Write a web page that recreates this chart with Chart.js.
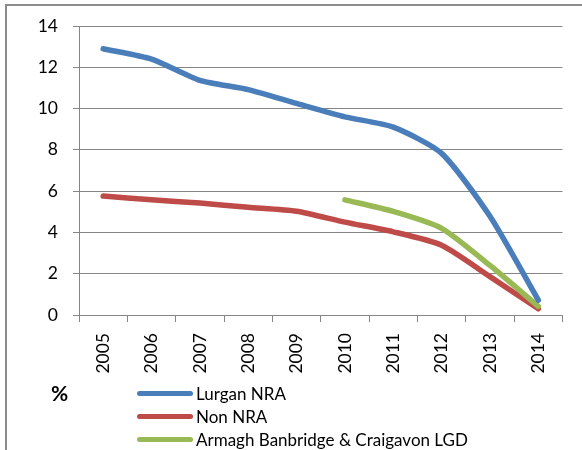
<!DOCTYPE html>
<html><head><meta charset="utf-8">
<script src="https://cdn.jsdelivr.net/npm/chart.js@4/dist/chart.umd.min.js"></script>
<style>
html,body{margin:0;padding:0;background:#fff;}
#wrap{position:relative;width:582px;height:450px;overflow:hidden;font-family:Lato,"Open Sans",sans-serif;}
#c{position:absolute;left:0;top:0;}
.ftop{position:absolute;left:6px;top:4px;width:576px;height:2px;background:#8c8c8c;}
.fleft{position:absolute;left:5px;top:4px;width:2px;height:446px;background:#8c8c8c;}
.pct{position:absolute;left:51px;top:380px;font-weight:bold;font-size:21px;color:#000;}
.lg{position:absolute;left:137px;height:22px;width:420px;}
.lg .ln{position:absolute;left:0;top:8px;width:56px;height:5px;border-radius:3px;}
.lg .tx{position:absolute;left:59px;top:0;font-size:17px;line-height:22px;color:#000;white-space:nowrap;}
</style></head>
<body>
<div id="wrap">
<canvas id="c" width="582" height="450"></canvas>
<div class="ftop"></div><div class="fleft"></div>
<div class="pct">%</div>
<div id="legend"></div>
</div>
<script>
const years = ["2005","2006","2007","2008","2009","2010","2011","2012","2013","2014"];
const seriesNames = ["Lurgan NRA","Non NRA","Armagh Banbridge & Craigavon LGD"];
const lurganNRA = [12.9,12.4,11.37,10.92,10.25,9.6,9.1,7.83,4.78,0.72];
const nonNRA = [5.76,5.58,5.42,5.22,5.03,4.5,4.03,3.38,1.86,0.3];
const armaghLGD = [null,null,null,null,null,5.58,5.02,4.2,2.4,0.42];
const yTicks = [0,2,4,6,8,10,12,14];
const colors = ["#4a7ebb","#be4b48","#98b954"];

const seriesData = [lurganNRA, nonNRA, armaghLGD];
const drawOrder = [0,2,1];
const datasets = seriesData.map((d,i)=>({
  label: seriesNames[i], data: d, borderColor: colors[i], backgroundColor: colors[i],
  borderWidth: 5.5, pointRadius: 0, tension: 0.22, fill: false,
  borderCapStyle: 'round', borderJoinStyle: 'round', order: drawOrder[i]
}));

const gridCol = '#868686';
new Chart(document.getElementById('c'), {
  type: 'line',
  data: { labels: years, datasets },
  options: {
    responsive: false, animation: false,
    layout: { padding: { top: 26, right: 19.5, bottom: 0, left: 0 } },
    plugins: { legend: { display: false }, tooltip: { enabled: false } },
    scales: {
      x: {
        offset: true,
        grid: { display: true, drawOnChartArea: false, drawTicks: true, tickLength: 7, offset: true, color: gridCol },
        border: { display: true, color: gridCol, width: 1 },
        ticks: { minRotation: 90, maxRotation: 90, padding: 11, color: '#000', font: { family: 'Lato', size: 17.5 } },
        afterFit: s => { s.height = 135; }
      },
      y: {
        min: 0, max: 14,
        afterBuildTicks: s => { s.ticks = yTicks.map(v => ({ value: v })); },
        grid: { color: gridCol, lineWidth: 1, drawTicks: true, tickLength: 6 },
        border: { display: true, color: gridCol, width: 1 },
        ticks: { padding: 15, color: '#000', font: { family: 'Lato', size: 17.5 } },
        afterFit: s => { s.width = 79; }
      }
    }
  }
});

const lgTops = [383, 406, 429];
const legend = document.getElementById('legend');
seriesNames.forEach((n,i)=>{
  const row = document.createElement('div');
  row.className = 'lg'; row.style.top = lgTops[i] + 'px';
  const ln = document.createElement('div'); ln.className = 'ln'; ln.style.background = colors[i];
  const tx = document.createElement('div'); tx.className = 'tx'; tx.textContent = n;
  row.appendChild(ln); row.appendChild(tx); legend.appendChild(row);
});
</script>
</body></html>
